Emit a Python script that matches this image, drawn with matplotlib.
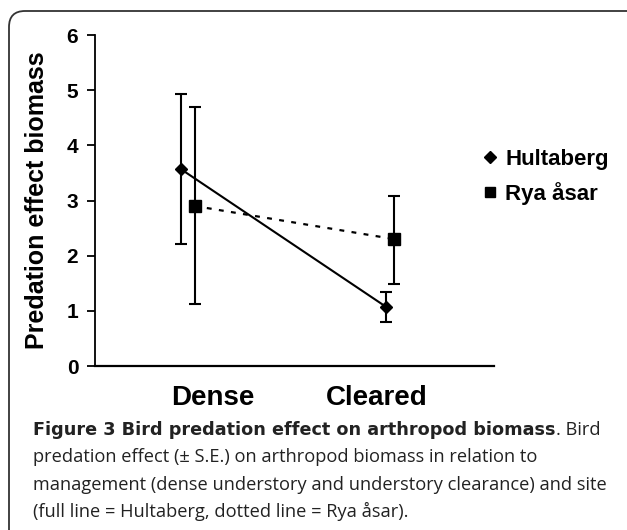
import matplotlib
matplotlib.use("Agg")
import matplotlib.pyplot as plt
from matplotlib.patches import FancyBboxPatch
from matplotlib.transforms import IdentityTransform
from matplotlib.lines import Line2D

# ---- data ----
categories = ["Dense", "Cleared"]
sites = ["Hultaberg", "Rya åsar"]
hult_mean = [3.57, 1.07]
hult_upper = [4.93, 1.34]
hult_lower = [2.21, 0.79]
rya_mean = [2.90, 2.30]
rya_upper = [4.69, 3.09]
rya_lower = [1.12, 1.49]
yticks = [0, 1, 2, 3, 4, 5, 6]

caption_bold = "Figure 3 Bird predation effect on arthropod biomass"
caption_rest1 = ". Bird"
caption_lines = [
    "predation effect (\u00b1 S.E.) on arthropod biomass in relation to",
    "management (dense understory and understory clearance) and site",
    "(full line = Hultaberg, dotted line = Rya åsar).",
]

W, H = 627, 530
fig = plt.figure(figsize=(W / 100, H / 100), dpi=100)

# rounded frame
frame = FancyBboxPatch((9, -60), 700, (H - 11) + 60,
                       boxstyle="round,pad=0,rounding_size=16",
                       transform=IdentityTransform(), facecolor="none",
                       edgecolor="#333333", linewidth=1.3, zorder=-5)
fig.patches.append(frame)

ax = fig.add_axes([95 / W, (H - 366) / H, (494 - 95) / W, (366 - 35) / H])
ax.patch.set_alpha(0)

cat_pos = [0.5, 1.5]
off_h = [-0.07, -0.04]
off_r = [0.0, 0.0]
xh = [c + o for c, o in zip(cat_pos, off_h)]
xr = [c + o for c, o in zip(cat_pos, off_r)]

h_err = [[m - l for m, l in zip(hult_mean, hult_lower)],
         [u - m for m, u in zip(hult_mean, hult_upper)]]
r_err = [[m - l for m, l in zip(rya_mean, rya_lower)],
         [u - m for m, u in zip(rya_mean, rya_upper)]]

ax.errorbar(xh, hult_mean, yerr=h_err, color="black", linestyle="-",
            linewidth=1.5, marker="D", markersize=6.5, capsize=4,
            elinewidth=1.5, capthick=1.5, zorder=3)
ax.errorbar(xr, rya_mean, yerr=r_err, color="black", linestyle=(0, (2.2, 3.3)),
            linewidth=1.6, marker="s", markersize=9, capsize=4,
            elinewidth=1.5, capthick=1.5, zorder=3)

ax.set_xlim(0, 2)
ax.set_ylim(0, 6)
ax.set_yticks(yticks)
ax.set_yticklabels([str(t) for t in yticks], fontfamily="Liberation Sans",
                   fontweight="bold", fontsize=15)
ax.tick_params(axis="y", direction="out", length=6, width=1.3, pad=6)
ax.set_xticks([0.59, 1.41])
ax.set_xticklabels(categories, fontfamily="Liberation Sans",
                   fontweight="bold", fontsize=20)
ax.tick_params(axis="x", length=0, pad=14)
for s in ["top", "right"]:
    ax.spines[s].set_visible(False)
ax.spines["left"].set_linewidth(1.3)
ax.spines["bottom"].set_linewidth(1.6)

fig.text(37 / W, 1 - 200 / H, "Predation effect biomass", rotation=90,
         ha="center", va="center", fontfamily="Liberation Sans",
         fontweight="bold", fontsize=18)

handles = [Line2D([], [], color="black", marker="D", linestyle="none", markersize=6),
           Line2D([], [], color="black", marker="s", linestyle="none", markersize=7.5)]
leg = fig.legend(handles, sites, loc="center left",
                 bbox_to_anchor=(484 / W, 1 - 177 / H), frameon=False,
                 handlelength=0.5, handletextpad=0.45, labelspacing=0.55,
                 borderaxespad=0, borderpad=0,
                 prop={"family": "Liberation Sans", "weight": "bold", "size": 16})

# caption
fig.canvas.draw()
renderer = fig.canvas.get_renderer()


def fit_text(x, y, s, target_w, family, weight, base):
    t = fig.text(x, y, s, ha="left", va="center", fontfamily=family,
                 fontweight=weight, fontsize=base, color="#222222")
    w = t.get_window_extent(renderer).width
    t.set_fontsize(base * target_w / w)
    return t


x0 = 33 / W
cap_font = "Open Sans"
tb = fit_text(x0, 1 - 430 / H, caption_bold, 519, "DejaVu Sans", "bold", 12)
bb = tb.get_window_extent(renderer)
ref = fit_text(x0, 1 - 484 / H, caption_lines[1], 572, cap_font, "normal", 12)
size = ref.get_fontsize()
ref.remove()
fig.text(bb.x1 / W, 1 - 430 / H, caption_rest1, ha="left", va="center",
         fontfamily=cap_font, fontsize=size, color="#222222")
for i, line in enumerate(caption_lines):
    fig.text(x0, 1 - (457.5 + 27 * i) / H, line, ha="left", va="center",
             fontfamily=cap_font, fontsize=size, color="#222222")

fig.savefig("out.png", dpi=100)
